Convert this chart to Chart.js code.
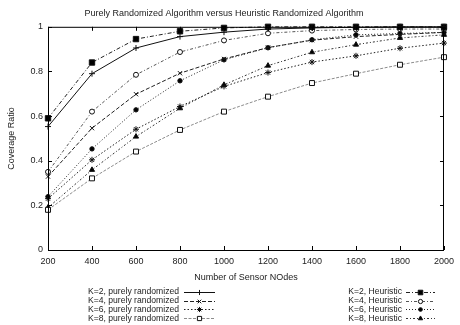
<!DOCTYPE html>
<html>
<head>
<meta charset="utf-8">
<script src="https://cdn.jsdelivr.net/npm/chart.js"></script>
<style>
  html, body { margin: 0; padding: 0; background: #fff; }
  #wrap { width: 460px; height: 325px; }
</style>
</head>
<body>
<div id="wrap"><canvas id="chart" width="460" height="325"></canvas></div>
<script>
  const NODES = [200, 400, 600, 800, 1000, 1200, 1400, 1600, 1800, 2000];

  const K2_PURE = [0.553, 0.79, 0.905, 0.956, 0.976, 0.99, 0.995, 0.998, 1.0, 1.0];
  const K4_PURE = [0.329, 0.546, 0.698, 0.792, 0.856, 0.907, 0.94, 0.956, 0.966, 0.975];
  const K6_PURE = [0.23, 0.404, 0.541, 0.643, 0.733, 0.795, 0.842, 0.87, 0.904, 0.927];
  const K8_PURE = [0.18, 0.321, 0.441, 0.538, 0.62, 0.687, 0.748, 0.79, 0.83, 0.864];

  const K2_HEUR = [0.59, 0.84, 0.945, 0.98, 0.995, 1.0, 1.0, 1.0, 1.0, 1.0];
  const K4_HEUR = [0.35, 0.62, 0.785, 0.887, 0.939, 0.971, 0.983, 0.988, 0.99, 0.99];
  const K6_HEUR = [0.239, 0.453, 0.628, 0.758, 0.852, 0.906, 0.942, 0.964, 0.97, 0.975];
  const K8_HEUR = [0.19, 0.359, 0.508, 0.635, 0.74, 0.826, 0.886, 0.92, 0.95, 0.964];

  const Y_TICKS = [0, 0.2, 0.4, 0.6, 0.8, 1];

  const FONT = 'Liberation Sans, Arial, Helvetica, sans-serif';
  const INK = '#222';

  function pts(vals) {
    return vals.map((v, i) => ({ x: NODES[i], y: v }));
  }

  function series(label, vals, color, dash, style, radius, fill, col) {
    return {
      label: label,
      data: pts(vals),
      borderColor: color,
      borderWidth: 1,
      borderDash: dash,
      pointStyle: style,
      pointRadius: radius,
      pointBorderColor: '#111',
      pointBorderWidth: 1,
      pointBackgroundColor: fill,
      tension: 0,
      fill: false,
      clip: false,
      keyCol: col,
    };
  }

  const datasets = [
    series('K=2, purely randomized', K2_PURE, '#111', [], 'cross', 3, '#111', 0),
    series('K=4, purely randomized', K4_PURE, '#222', [4, 2], 'crossRot', 3, '#111', 0),
    series('K=6, purely randomized', K6_PURE, '#222', [1.5, 2], 'star', 3, '#111', 0),
    series('K=8, purely randomized', K8_PURE, '#8c8c8c', [3, 1.5], 'rect', 3.5, '#fff', 0),
    series('K=2, Heuristic', K2_HEUR, '#222', [4, 2, 1, 2], 'rect', 3.8, '#000', 1),
    series('K=4, Heuristic', K4_HEUR, '#555', [3, 2, 1, 2], 'circle', 2.5, '#fff', 1),
    series('K=6, Heuristic', K6_HEUR, '#222', [1, 2], 'circle', 2.2, '#000', 1),
    series('K=8, Heuristic', K8_HEUR, '#333', [2, 2, 1, 2], 'triangle', 3, '#000', 1),
  ];

  // gnuplot-like frame with inward ticks on all four sides
  const framePlugin = {
    id: 'frame',
    afterDatasetsDraw(chart) {
      const { ctx, chartArea: a, scales } = chart;
      ctx.save();
      ctx.strokeStyle = '#000';
      ctx.lineWidth = 1;
      ctx.setLineDash([]);
      ctx.strokeRect(a.left + 0.5, a.top + 0.5, a.right - a.left - 1, a.bottom - a.top);
      ctx.beginPath();
      NODES.forEach(v => {
        const x = Math.round(scales.x.getPixelForValue(v)) + 0.5;
        ctx.moveTo(x, a.bottom); ctx.lineTo(x, a.bottom - 4);
        ctx.moveTo(x, a.top); ctx.lineTo(x, a.top + 4);
      });
      Y_TICKS.forEach(v => {
        const y = Math.round(scales.y.getPixelForValue(v)) + 0.5;
        ctx.moveTo(a.left, y); ctx.lineTo(a.left + 4, y);
        ctx.moveTo(a.right, y); ctx.lineTo(a.right - 4, y);
      });
      ctx.stroke();
      ctx.restore();
    },
  };

  // two-column key under the plot, text right-aligned, sample line to the right
  const keyPlugin = {
    id: 'gnukey',
    afterDraw(chart) {
      const ctx = chart.ctx;
      const cols = [{ textRight: 179, x0: 184, x1: 215 }, { textRight: 402, x0: 406, x1: 435 }];
      const rows = [291.7, 300.6, 309.4, 318.3];
      const count = [0, 0];
      ctx.save();
      ctx.font = '8.6px ' + FONT;
      ctx.textAlign = 'right';
      ctx.textBaseline = 'middle';
      chart.data.datasets.forEach(ds => {
        const c = cols[ds.keyCol];
        const y = rows[count[ds.keyCol]++];
        ctx.fillStyle = INK;
        ctx.fillText(ds.label, c.textRight, y);
        const ly = Math.round(y) + 0.5;
        ctx.strokeStyle = ds.borderColor;
        ctx.lineWidth = 1;
        ctx.setLineDash(ds.borderDash);
        ctx.beginPath();
        ctx.moveTo(c.x0, ly);
        ctx.lineTo(c.x1, ly);
        ctx.stroke();
        ctx.setLineDash([]);
        ctx.strokeStyle = ds.pointBorderColor;
        ctx.fillStyle = ds.pointBackgroundColor;
        if (Chart.helpers && Chart.helpers.drawPoint) {
          Chart.helpers.drawPoint(ctx, {
            pointStyle: ds.pointStyle,
            radius: ds.pointRadius * 0.85,
            borderWidth: 1,
            rotation: 0,
          }, (c.x0 + c.x1) / 2, ly);
        }
      });
      ctx.restore();
    },
  };

  new Chart(document.getElementById('chart'), {
    type: 'line',
    data: { datasets: datasets },
    plugins: [framePlugin, keyPlugin],
    options: {
      responsive: false,
      devicePixelRatio: 1,
      animation: false,
      layout: { padding: { left: 0, right: 12, top: 0, bottom: 40 } },
      plugins: {
        legend: { display: false },
        tooltip: { enabled: false },
        title: {
          display: true,
          text: 'Purely Randomized Algorithm versus Heuristic Randomized Algorithm',
          color: INK,
          font: { family: FONT, size: 9, weight: 'normal' },
          padding: { top: 8, bottom: 8 },
        },
      },
      scales: {
        x: {
          type: 'linear',
          min: 200,
          max: 2000,
          grid: { display: false, drawTicks: false },
          border: { display: false },
          ticks: {
            stepSize: 200,
            autoSkip: false,
            maxRotation: 0,
            padding: 6,
            color: INK,
            font: { family: FONT, size: 9 },
            callback: v => String(v),
          },
          title: {
            display: true,
            text: 'Number of Sensor NOdes',
            color: INK,
            font: { family: FONT, size: 9 },
            padding: { top: 0, bottom: 2 },
          },
          afterFit(scale) { scale.height = 35; },
        },
        y: {
          min: 0,
          max: 1,
          grid: { display: false, drawTicks: false },
          border: { display: false },
          ticks: {
            stepSize: 0.2,
            padding: 5,
            color: INK,
            font: { family: FONT, size: 9 },
            callback: v => String(Number(v.toFixed(1))),
          },
          title: {
            display: true,
            text: 'Coverage Ratio',
            color: INK,
            font: { family: FONT, size: 9 },
            padding: { top: 6, bottom: 0 },
          },
          afterFit(scale) { scale.width = 48; },
        },
      },
    },
  });
</script>
</body>
</html>
